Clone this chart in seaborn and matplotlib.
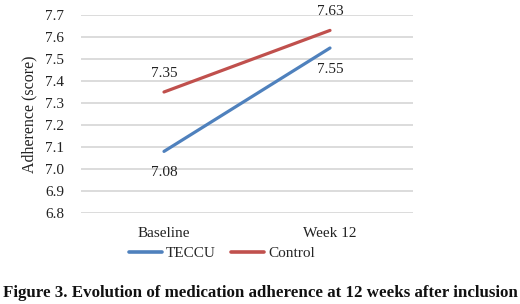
import pandas as pd
import seaborn as sns
import matplotlib.pyplot as plt

timepoints = ["Baseline", "Week 12"]
teccu = [7.08, 7.55]
control = [7.35, 7.63]
groups = ["TECCU", "Control"]
colors = ["#4F81BD", "#C0504D"]

df = pd.DataFrame({
    "time": timepoints * 2,
    "score": teccu + control,
    "group": [groups[0]] * 2 + [groups[1]] * 2,
})

sns.set_style("white")
plt.rcParams["font.family"] = ["Liberation Serif", "DejaVu Serif"]

fig = plt.figure(figsize=(5.2, 3.04), dpi=100)
ax = fig.add_axes([81 / 520, 1 - 213 / 304, 332 / 520, 198 / 304])

sns.lineplot(data=df, x="time", y="score", hue="group", palette=colors,
             linewidth=2.3, ax=ax, sort=False)

ax.set_xlim(-0.5, 1.5)
ax.set_ylim(6.8, 7.7)
ax.set_yticks([6.8 + 0.1 * i for i in range(10)])
ax.set_yticklabels([f"{6.8 + 0.1 * i:.1f}" for i in range(10)])
ax.yaxis.grid(True, color="#D9D9D9", linewidth=1.3)
ax.set_axisbelow(True)
for s in ax.spines.values():
    s.set_visible(False)
ax.tick_params(axis="both", length=0, labelsize=11, colors="#222222")
ax.tick_params(axis="y", pad=12)
ax.tick_params(axis="x", pad=10)
ax.set_xlabel("")
ax.set_ylabel("Adherence (score)", fontsize=11.5, color="#222222", labelpad=6)

# data labels: control above, TECCU below
for i, v in enumerate(control):
    ax.annotate(f"{v:.2f}", (i, v), xytext=(0, 9), textcoords="offset points",
                ha="center", va="bottom", fontsize=11, color="#222222")
for i, v in enumerate(teccu):
    ax.annotate(f"{v:.2f}", (i, v), xytext=(0, -10.5), textcoords="offset points",
                ha="center", va="top", fontsize=11, color="#222222")

leg = ax.legend(loc="center", bbox_to_anchor=(0.425, -0.205), ncol=2,
                frameon=False, fontsize=11, handlelength=2.15, handletextpad=0.25,
                columnspacing=1.0)
for line in leg.get_lines():
    line.set_linewidth(2.6)

fig.text(0.5, 1 - 293 / 304,
         "Figure 3. Evolution of medication adherence at 12 weeks after inclusion",
         ha="center", va="center", fontsize=12.2, fontweight="bold", color="#111111")

fig.savefig("out.png", dpi=100)
